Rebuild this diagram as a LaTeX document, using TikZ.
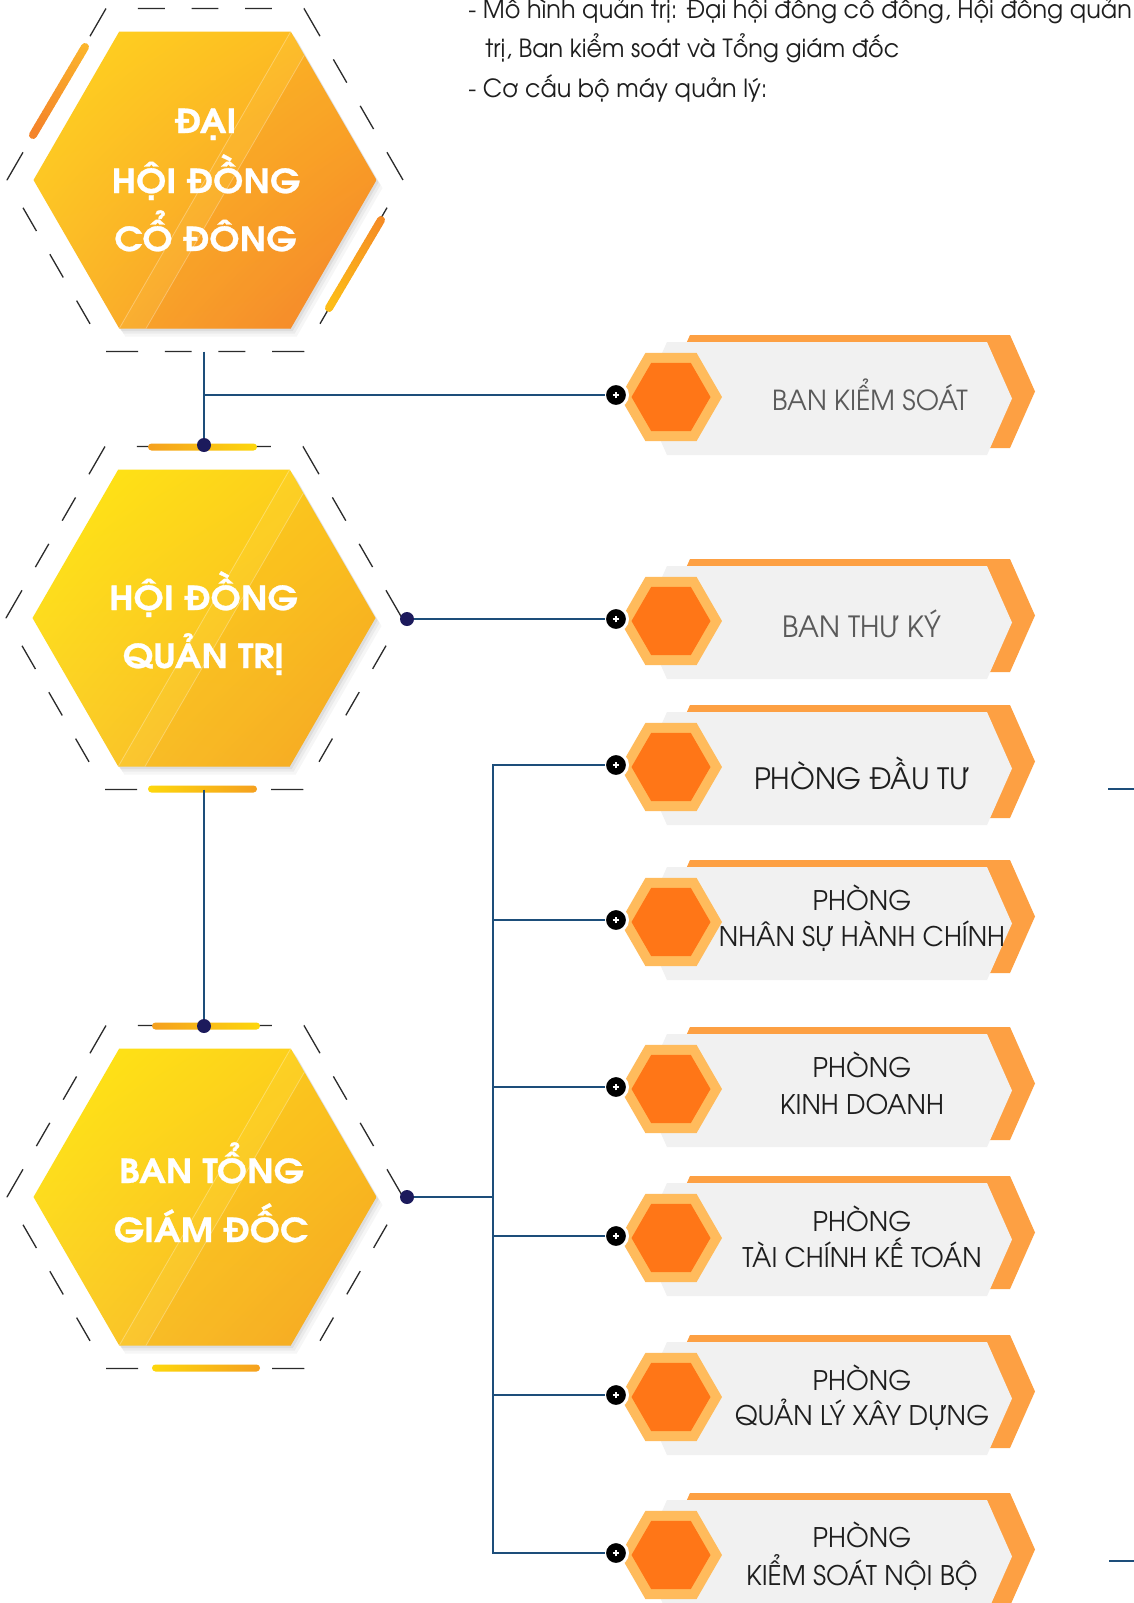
\documentclass[tikz,border=0pt]{standalone}
\usepackage{fontspec}
\setmainfont{texgyreadventor}[Extension=.otf,UprightFont=*-regular,BoldFont=*-bold,ItalicFont=*-italic,BoldItalicFont=*-bolditalic]
\newfontfamily\boxfont{texgyreadventor}[Extension=.otf,UprightFont=*-regular,BoldFont=*-bold,FakeStretch=0.97]
\newfontfamily\topfont{texgyreadventor}[Extension=.otf,UprightFont=*-regular,BoldFont=*-bold,FakeStretch=0.955]
\newfontfamily\titlefont{texgyreadventor}[Extension=.otf,UprightFont=*-bold,BoldFont=*-bold,FakeStretch=1.09,FakeBold=0.8]
\usetikzlibrary{calc,shadings}

\definecolor{navyline}{HTML}{1D4E7A}
\definecolor{dotnavy}{HTML}{1C1A5C}
\definecolor{dashgray}{HTML}{2B2B2B}
\definecolor{chev}{HTML}{FDA043}
\definecolor{boxgray}{HTML}{F1F1F1}
\definecolor{hexlight}{HTML}{FFBB5C}
\definecolor{hexdark}{HTML}{FF7617}
\definecolor{txtgray}{HTML}{5A5A5A}
\definecolor{txtdark}{HTML}{1E1E1E}
\definecolor{hAul}{HTML}{FFD51F}
\definecolor{hAur}{HTML}{FCB524}
\definecolor{hAll}{HTML}{FBBA29}
\definecolor{hAlr}{HTML}{F5822B}
\definecolor{hBul}{HTML}{FFE913}
\definecolor{hBur}{HTML}{FCC81E}
\definecolor{hBll}{HTML}{FBCF2A}
\definecolor{hBlr}{HTML}{F6A623}
\definecolor{barO}{HTML}{F5A01F}
\definecolor{barY}{HTML}{FDD70C}
\definecolor{ulTop}{HTML}{FBB52C}
\definecolor{ulBot}{HTML}{F4812A}
\definecolor{lrTop}{HTML}{F58B25}
\definecolor{lrBot}{HTML}{FDBF17}

\tikzset{
  conn/.style={draw=navyline, line width=1pt},
  dashhex/.style={draw=dashgray, line width=0.65pt, line join=miter,
    dash pattern=on 16pt off 13.4pt on 13.4pt off 13.4pt on 13.4pt off 13.4pt on 16pt},
  bigdot/.style={circle, fill=dotnavy, minimum size=7pt, inner sep=0pt, outer sep=0pt},
  smalldot/.style={circle, fill=black, draw=white, line width=1.5pt, minimum size=11.5pt,
    inner sep=0pt, outer sep=0pt,
    path picture={\draw[white, line width=0.55pt]
      ([xshift=-1.7pt]path picture bounding box.center) -- ([xshift=1.7pt]path picture bounding box.center)
      ([yshift=-1.7pt]path picture bounding box.center) -- ([yshift=1.7pt]path picture bounding box.center);}},
  titletext/.style={text=white, font=\titlefont\fontsize{16.5}{16.5}\selectfont, anchor=base, inner sep=0pt},
  boxtext/.style={font=\boxfont\fontsize{13.5}{13.5}\selectfont, anchor=base, inner sep=0pt, text=txtdark},
  toptext/.style={font=\topfont\fontsize{12.5}{12.5}\selectfont, text=txtdark, anchor=base west, inner sep=0pt},
}

\newcommand\HexShape[3]{\path[#1] (-#2,0) -- (-#2/2,-#3) -- (#2/2,-#3) -- (#2,0) -- (#2/2,#3) -- (-#2/2,#3) -- cycle;}

\newcommand\BigHex[6]{%
\begin{scope}[shift={(#1,#2)}]
  \begin{scope}[shift={(6,8)}]\HexShape{fill=black,opacity=0.035}{171.5}{148.5}\end{scope}
  \begin{scope}[shift={(4,5)}]\HexShape{fill=black,opacity=0.045}{171.5}{148.5}\end{scope}
  \begin{scope}[shift={(2,2.5)}]\HexShape{fill=black,opacity=0.06}{171.5}{148.5}\end{scope}
  \HexShape{shade,upper left=#3,upper right=#4,lower left=#5,lower right=#6}{171.5}{148.5}
  \fill[white,opacity=0.04] (85.75,-148.5) -- (99.4,-125) -- (-59,148.5) -- (-85.75,148.5) -- cycle;
  \fill[#6,opacity=0.18] (99.4,-125) -- (171.5,0) -- (85.75,148.5) -- (-59,148.5) -- cycle;
  \draw[white,opacity=0.3,line width=0.4pt] (85.75,-148.5) -- (-85.75,148.5) (99.4,-125) -- (-59,148.5);
  \HexShape{dashhex}{198}{171.5}
\end{scope}}

\newcommand\UnitBox[2]{%
  \fill[chev] (665,#2-3.5) -- (690,#2-60) -- (1010,#2-60) -- (1035,#2-3.5) -- (1010,#2+53) -- (690,#2+53) -- cycle;
  \fill[boxgray] (642,#2+3.5) -- (667,#2-53) -- (987,#2-53) -- (1012,#2+3.5) -- (987,#2+60) -- (667,#2+60) -- cycle;
  \begin{scope}[shift={(671,#2+2)}]
    \HexShape{fill=hexlight}{51}{44.2}
    \HexShape{fill=hexdark}{39.5}{34.2}
  \end{scope}
  \node[smalldot] (#1) at (616,#2) {};
}

\begin{document}
\begin{tikzpicture}[x=0.5pt,y=-0.5pt]
\useasboundingbox (0,0) rectangle (1134,1603);
\fill[white] (0,0) rectangle (1134,1603);
\clip (0,0) rectangle (1134,1603);

% big hexagons
\BigHex{205}{180}{hAul}{hAur}{hAll}{hAlr}
\BigHex{204}{618}{hBul}{hBur}{hBll}{hBlr}
\BigHex{205}{1197}{hBul}{hBur}{hBll}{hBlr}

% accent bars
\coordinate (ulS) at (85,47); \coordinate (ulE) at (33,135);
\coordinate (lrS) at (381,220); \coordinate (lrE) at (329,308);
\foreach \i in {0,...,19}{
  \pgfmathsetmacro\ta{\i/20}\pgfmathsetmacro\tb{(\i+1)/20}\pgfmathtruncatemacro\pa{100-5*\i}
  \draw[line width=4pt,line cap=round,draw={ulTop!\pa!ulBot}] ($(ulS)!\ta!(ulE)$) -- ($(ulS)!\tb!(ulE)$);
  \draw[line width=4pt,line cap=round,draw={lrTop!\pa!lrBot}] ($(lrS)!\ta!(lrE)$) -- ($(lrS)!\tb!(lrE)$);
}
\shade[left color=barO, right color=barY, rounded corners=1.75pt] (148,443.5) rectangle (257,450.5);
\shade[left color=barY, right color=barO, rounded corners=1.75pt] (148,785.5) rectangle (257,792.5);
\shade[left color=barO, right color=barY, rounded corners=1.75pt] (152,1022.5) rectangle (260,1029.5);
\shade[left color=barY, right color=barO, rounded corners=1.75pt] (152,1364.5) rectangle (260,1371.5);

% unit boxes
\UnitBox{d1}{395}
\UnitBox{d2}{619}
\UnitBox{d3}{765}
\UnitBox{d4}{920}
\UnitBox{d5}{1087}
\UnitBox{d6}{1236}
\UnitBox{d7}{1395}
\UnitBox{d8}{1553}

% connector points
\coordinate (h1b) at (204,351.5);
\node[bigdot] (h2t) at (204,445) {};
\coordinate (h2b) at (204,789.5);
\node[bigdot] (h3t) at (204,1026) {};
\node[bigdot] (h2r) at (407,619) {};
\node[bigdot] (h3r) at (407,1197) {};
\coordinate (tr) at (493,1197);
\coordinate (s1a) at (1108,789); \coordinate (s1b) at (1134,789);
\coordinate (s2a) at (1109,1561); \coordinate (s2b) at (1134,1561);

% connectors
\draw[conn] (h1b) -- (h2t);
\draw[conn] (h1b |- d1) -- (d1);
\draw[conn] (h2b) -- (h3t);
\draw[conn] (h2r) -- (d2);
\draw[conn] (h3r) -- (tr);
\draw[conn] (d3) -| (tr);
\draw[conn] (d8) -| (tr);
\draw[conn] (d4) -- (d4 -| tr);
\draw[conn] (d5) -- (d5 -| tr);
\draw[conn] (d6) -- (d6 -| tr);
\draw[conn] (d7) -- (d7 -| tr);
\draw[conn] (s1a) -- (s1b);
\draw[conn] (s2a) -- (s2b);

% titles
\node[titletext] (a1) at (205.5,133) {ĐẠI};
\node[titletext] (a2) at (206,193) {HỘI ĐỒNG};
\node[titletext] (a3) at (205.5,251) {CỔ ĐÔNG};
\node[titletext] (b1) at (203.5,610) {HỘI ĐỒNG};
\node[titletext] (b2) at (203.5,668) {QUẢN TRỊ};
\node[titletext] (c1) at (211.5,1183) {BAN TỔNG};
\node[titletext] (c2) at (211,1242) {GIÁM ĐỐC};

% box texts
\node[boxtext, text=txtgray, font=\boxfont\fontsize{13.8}{13.8}\selectfont] (t1) at (870,410) {BAN KIỂM SOÁT};
\node[boxtext, text=txtgray, font=\boxfont\fontsize{14.6}{14.6}\selectfont] (t2) at (862,637) {BAN THƯ KÝ};
\node[boxtext, font=\boxfont\fontsize{14.7}{14.7}\selectfont] (t3) at (862,789) {PHÒNG ĐẦU TƯ};
\node[boxtext] (t4a) at (862,910) {PHÒNG};
\node[boxtext] (t4b) at (862,946) {NHÂN SỰ HÀNH CHÍNH};
\node[boxtext] (t5a) at (862,1077) {PHÒNG};
\node[boxtext] (t5b) at (862,1114) {KINH DOANH};
\node[boxtext] (t6a) at (862,1231) {PHÒNG};
\node[boxtext] (t6b) at (862,1267) {TÀI CHÍNH KẾ TOÁN};
\node[boxtext] (t7a) at (862,1390) {PHÒNG};
\node[boxtext] (t7b) at (862,1425) {QUẢN LÝ XÂY DỰNG};
\node[boxtext] (t8a) at (862,1547) {PHÒNG};
\node[boxtext] (t8b) at (862,1585) {KIỂM SOÁT NỘI BỘ};

% top text
\node[toptext] (p1) at (468,18) {- Mô hình quản trị: Đại hội đồng cổ đông, Hội đồng quản};
\node[toptext] (p2) at (485,57) {trị, Ban kiểm soát và Tổng giám đốc};
\node[toptext] (p3) at (468,97) {- Cơ cấu bộ máy quản lý:};
\end{tikzpicture}
\end{document}
